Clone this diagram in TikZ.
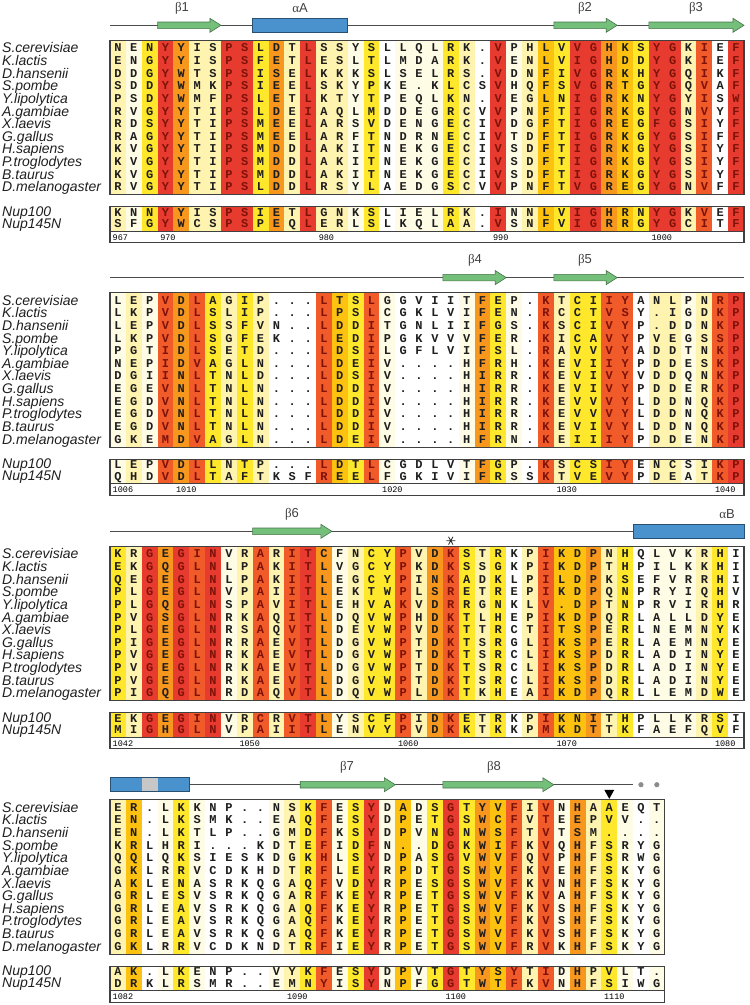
\documentclass[tikz,border=0pt]{standalone}
\usepackage{fontspec}
\usetikzlibrary{calc}
\setmainfont{Liberation Sans}
\newfontfamily\monofont{Liberation Mono}
\newfontfamily\grkfont{Liberation Serif}

\definecolor{lev0}{HTML}{FFFFFF}
\definecolor{lev1}{HTML}{FFFCE6}
\definecolor{lev2}{HTML}{FFF3B0}
\definecolor{lev3}{HTML}{FFE82C}
\definecolor{lev4}{HTML}{FDC20F}
\definecolor{lev5}{HTML}{F7971E}
\definecolor{lev6}{HTML}{F15B2A}
\definecolor{lev7}{HTML}{E63B2E}
\definecolor{txt0}{HTML}{1E1E1E}
\colorlet{txt1}{txt0}\colorlet{txt2}{txt0}\colorlet{txt3}{txt0}
\colorlet{txt4}{txt0}\colorlet{txt5}{txt0}
\definecolor{txt6}{HTML}{7E1209}
\colorlet{txt7}{txt6}
\definecolor{strandgreen}{HTML}{74C07A}
\definecolor{helixblue}{HTML}{4A92CE}

\def\colw{15.85}

\makeatletter
\newcount\rescol
\newcommand\resrow[3]{\rescol=0 \def\res@n{#1}\def\res@y{#2}\res@loop#3\@nil}
\def\res@loop#1{\ifx#1\@nil\else
  \advance\rescol by 1
  \edef\res@lv{\csname lv@\the\rescol\endcsname}%
  \node[res,text=txt\res@lv] (\res@n-\the\rescol) at ({110+(\the\rescol-0.5)*\colw},{\yo+\res@y+3.6}) {#1};%
  \expandafter\res@loop\fi}
\makeatother

\newcommand\drawblock[1]{%
  \foreach \lv [count=\cc] in \levs {
    \expandafter\xdef\csname lv@\cc\endcsname{\lv}
    \fill[lev\lv] ({110+(\cc-1)*\colw},\yo-8) rectangle ++(\colw+0.3,154.6);
    \fill[lev\lv] ({110+(\cc-1)*\colw},\yo+158.5) rectangle ++(\colw+0.3,24.5);
  }
  \fill[white] (110,\yo+183) rectangle ({110+#1*\colw},\yo+194.5);
  \draw[frame] (110,\yo-8) rectangle ({110+#1*\colw},\yo+146.6);
  \draw[frame] (110,\yo+158.5) rectangle ({110+#1*\colw},\yo+194.5);
  \draw[frame] (110,\yo+183) -- ({110+#1*\colw},\yo+183);
}

\newcommand\spclabels{%
  \foreach \sp [count=\r] in {S.cerevisiae,K.lactis,D.hansenii,S.pombe,Y.lipolytica,A.gambiae,X.laevis,G.gallus,H.sapiens,P.troglodytes,B.taurus,D.melanogaster}
    \node[spc] (sp\bk-\r) at (2,{\yo+(\r-1)*12.63+4.6}) {\sp};
  \node[spc] (nupa\bk) at (2,\yo+167.8) {Nup100};
  \node[spc] (nupb\bk) at (2,\yo+180.2) {Nup145N};
}

\newcommand\bstrand[3]{%
  \pgfmathsetmacro\sa{110+(#2-1)*\colw}\pgfmathsetmacro\sb{110+#3*\colw}%
  \filldraw[strandc] (\sa,#1-3.3) -- (\sb-11,#1-3.3) -- (\sb-11,#1-7) -- (\sb,#1)
    -- (\sb-11,#1+7) -- (\sb-11,#1+3.3) -- (\sa,#1+3.3) -- cycle;}
\newcommand\ahelix[3]{%
  \pgfmathsetmacro\sa{110+(#2-1)*\colw}\pgfmathsetmacro\sb{110+#3*\colw}%
  \filldraw[helixc] (\sa,#1-7) rectangle (\sb,#1+7);}

\begin{document}
\begin{tikzpicture}[x=1pt,y=-1pt,
  res/.style={font=\monofont\bfseries\fontsize{12}{12}\selectfont,inner sep=0pt,anchor=base},
  spc/.style={font=\fontsize{14}{14}\selectfont\itshape,text=black!88,inner sep=0pt,anchor=base west},
  numlab/.style={font=\monofont\fontsize{8.5}{8.5}\selectfont,inner sep=0pt,anchor=base west},
  sslab/.style={font=\fontsize{13}{13}\selectfont,text=black!75,inner sep=0pt},
  frame/.style={draw=black!75,line width=1.1pt},
  topo/.style={draw=black!70,line width=1.3pt},
  strandc/.style={fill=strandgreen,draw=strandgreen!60!black,line width=0.6pt},
  helixc/.style={fill=helixblue,draw=helixblue!55!black,line width=0.6pt}]

\useasboundingbox (0,0) rectangle (750,1005);

\def\bk{1}\def\yo{48.3}
\def\levs{2,1,3,7,5,2,2,7,7,3,5,2,7,2,2,1,3,0,1,1,1,3,2,0,7,1,2,4,3,7,7,5,4,3,7,7,2,6,0,7}
\drawblock{40}
\spclabels
\resrow{a1}{0}{NENYYISPSLDTLSSYSLLQLRK.VPHLVVGHKSYGKIEF}
\resrow{a2}{12.63}{ENGYYISPSFETLESLTLMDARK.VENLVIGHDDYGKIEF}
\resrow{a3}{25.26}{DDGYWTSPSISELKKKSLSELRS.VDNFIVGRKHYGQIKF}
\resrow{a4}{37.89}{SDDYWMKPSIEELSKYPKE.KLCSVHQFSVGRTGYGQVAF}
\resrow{a5}{50.52}{PSDYWMFPSLETLKTYTPEQLKN.VEGLNIGRKNYGYISW}
\resrow{a6}{63.15}{RVGYYTIPSLDEIAQLMDDEGRCVVPNFTIGRKGYGNVYF}
\resrow{a7}{75.78}{RDSYYTIPSMEELARSVDENGECIVDGFTIGREGFGSIYF}
\resrow{a8}{88.41}{RAGYYTIPSMEELARFTNDRNECIVTDFTIGRKGYGSIFF}
\resrow{a9}{101.04}{KVGYYTIPSMDDLAKITNEKGECIVSDFTIGRKGYGSIYF}
\resrow{a10}{113.67}{KVGYYTIPSMDDLAKITNEKGECIVSDFTIGRKGYGSIYF}
\resrow{a11}{126.3}{KVGYYTIPSMDDLAKITNEKGECIVSDFTIGRKGYGSIYF}
\resrow{a12}{138.93}{RVGYYTIPSLDDLRSYLAEDGSCVVPNFTVGREGYGNVFF}
\resrow{a13}{164.2}{KNNYYISPSIETLGNKSLIELRK.INNLVIGHRNYGKVEF}
\resrow{a14}{175.8}{SFGYWCSPSPEQLERLSLKQLAA.VSNFVIGRRGYGCITF}
\foreach \c/\n in {1/967,4/970,14/980,25/990,35/1000}
  \node[numlab] (num\n) at ({110+(\c-1)*\colw+2.5},\yo+191.8) {\n};
\draw[topo] (110,\yo-23) -- (744,\yo-23);
\bstrand{\yo-23}{4}{7}
\ahelix{\yo-23}{10}{15}
\bstrand{\yo-23}{29}{32}
\bstrand{\yo-23}{35}{40}
\node[sslab] (b1lab) at (182,\yo-40) {{\grkfont β}1};
\node[sslab] (aAlab) at (300,\yo-40) {{\grkfont α}A};
\node[sslab] (b2lab) at (585,\yo-40) {{\grkfont β}2};
\node[sslab] (b3lab) at (696,\yo-40) {{\grkfont β}3};

\def\bk{2}\def\yo{300.6}
\def\levs{1,2,1,6,5,6,3,2,3,2,0,0,0,6,4,3,6,1,0,0,0,0,1,5,3,1,0,6,2,3,3,6,6,0,2,2,1,2,6,7}
\drawblock{40}
\spclabels
\resrow{b1}{0}{LEPVDLAGIP...LTSLGGVIITFEP.KTCIIYANLPNRP}
\resrow{b2}{12.63}{LKPVDLSLIP...LPSLCGKLVIFEN.RCCTVSY.IGDKP}
\resrow{b3}{25.26}{LEPVDLSSFVN..LDDITGNLIIFGS.KSCIVYP.DDNKP}
\resrow{b4}{37.89}{LKPVDLSGFEK..LEDIPGKVVVFER.KICAVYPVEGSSP}
\resrow{b5}{50.52}{PGTIDLSETD...LDSILGFLVIFSL.RAVVVYADDTNKP}
\resrow{b6}{63.15}{NEPIDVAGLN...LDEIV....HFRH.KEVIIYPDDESKP}
\resrow{b7}{75.78}{DGIINLTNLD...LDSIV....HIRR.KEVIVYVDDQNKP}
\resrow{b8}{88.41}{EGEVNLTNLN...LDDIV....HIRR.KEVIVYPDDERKP}
\resrow{b9}{101.04}{EGDVNLTNLN...LDDIV....HIRR.KEVVVYLDDNQKP}
\resrow{b10}{113.67}{EGDVNLTNLN...LDDIV....HIRR.KEVVVYLDDNQKP}
\resrow{b11}{126.3}{EGDVNLTNLN...LDDIV....HIRR.KEVIVYLDDNQKP}
\resrow{b12}{138.93}{GKEMDVAGLN...LDEIV....HFRN.KEIIIYPDDENKP}
\resrow{b13}{164.2}{LEPVDLLNTP...LDTLCGDLVTFGP.KSCSIYENCSIKP}
\resrow{b14}{175.8}{QHDVDLTAFTKSFREELFGKIVIFRSSKTVEVYPDEATKP}
\foreach \c/\n in {1/1006,5/1010,18/1020,29/1030,39/1040}
  \node[numlab] (num\n) at ({110+(\c-1)*\colw+2.5},\yo+191.8) {\n};
\draw[topo] (110,\yo-23) -- (744,\yo-23);
\bstrand{\yo-23}{22}{25}
\bstrand{\yo-23}{29}{32}
\node[sslab] (b4lab) at (475,\yo-40) {{\grkfont β}4};
\node[sslab] (b5lab) at (585,\yo-40) {{\grkfont β}5};

\def\bk{3}\def\yo{554.3}
\def\levs{3,2,7,5,7,6,7,1,2,6,2,6,7,5,1,2,3,3,6,2,5,6,3,2,3,0,2,6,4,4,5,2,3,0,1,1,1,2,3,0}
\drawblock{40}
\spclabels
\resrow{c1}{0}{KRGEGINVRARITCFNCYPVDKSTRKPIKDPNHQLVKRHI}
\resrow{c2}{12.63}{EKGQGLNLPAKITLVGCYPKDKSSGKPIKDPTHPILKKHI}
\resrow{c3}{25.26}{QEGEGLNLPAKITLEGCYPINKADKLPILDPKSEFVRRHI}
\resrow{c4}{37.89}{PLGEGLNVPAIITLEKTWPLSRETREPIKDPQNPRYIQHV}
\resrow{c5}{50.52}{PLGQGLNSPAVITLEHVAKVDRRGNKLV.DPTNPRVIRHR}
\resrow{c6}{63.15}{PVGSGLNRKAQITLDQVWPHDKTLHEPIKDPQRLALLDYE}
\resrow{c7}{75.78}{PLGEGLNRSAQVTLDEVWPVDKTTRCTITSPERLNEMNYK}
\resrow{c8}{88.41}{PIGEGLNRRAEVTLDGVWPTDKTSRGLIKSPERLAEMNYE}
\resrow{c9}{101.04}{PVGEGLNRKAEVTLDGVWPTDKTSRCLIKSPDRLADINYE}
\resrow{c10}{113.67}{PVGEGLNRKAEVTLDGVWPTDKTSRCLIKSPDRLADINYE}
\resrow{c11}{126.3}{PVGEGLNRKAEVTLDGVWPTDKTSRCLIKSPDRLADINYE}
\resrow{c12}{138.93}{PIGQGLNRDAQVTLDQVWPLDKTKHEAIKDPQRLLEMDWE}
\resrow{c13}{164.2}{EKGEGINVRCRVTLYSCFPIDKETRKPIKNITHPLLKRSI}
\resrow{c14}{175.8}{MIGHGLNVPAIITLENVYPVDKKTKKPMKDTTKFAEFQVF}
\foreach \c/\n in {1/1042,9/1050,19/1060,29/1070,39/1080}
  \node[numlab] (num\n) at ({110+(\c-1)*\colw+2.5},\yo+191.8) {\n};
\draw[topo] (110,\yo-23) -- (633,\yo-23);
\bstrand{\yo-23}{10}{14}
\ahelix{\yo-23}{34}{40}
\node[sslab] (b6lab) at (292,\yo-40) {{\grkfont β}6};
\node[sslab] (aBlab) at (727,\yo-40) {{\grkfont α}B};
\coordinate (ast) at ({110+21.5*\colw},\yo-13.6);
\draw[black!85,line width=0.8pt] ([xshift=-4.5pt]ast) -- ([xshift=4.5pt]ast)
  ($(ast)+(60:4.5)$) -- ($(ast)+(240:4.5)$) ($(ast)+(120:4.5)$) -- ($(ast)+(300:4.5)$);

\def\bk{4}\def\yo{807.7}
\def\levs{2,4,0,1,3,1,0,0,0,0,1,2,3,6,1,3,7,1,4,1,3,7,3,5,4,6,2,6,1,5,2,3,1,0,1}
\drawblock{35}
\spclabels
\resrow{d1}{0}{ER.LKKNP..NSKFESYDADSGTYVFIVNHAAEQT}
\resrow{d2}{12.63}{EN.LKSMK..EAQFESYDPETGSWCFVTEEPVV..}
\resrow{d3}{25.26}{EN.LKTLP..GMDFKSYDPVNGNWSFTVTSM....}
\resrow{d4}{37.89}{KRLHRI...KDTEFIDFN..DGKWIFKVQHFSRYG}
\resrow{d5}{50.52}{QQLQKSIESKDGKHLSYDPASGVWVFQVPHFSRWG}
\resrow{d6}{63.15}{GKLRRVCDKHDTRFLEYRPDTGSWVFKVEHFSKYG}
\resrow{d7}{75.78}{AKLENASRKQGAQFVDYRPESGSWVFKVNHFSKYG}
\resrow{d8}{88.41}{GRLESVSRKQGARFKEYRPETGSWVFKVAHFSKYG}
\resrow{d9}{101.04}{GRLEAVSRKQGAQFKEYRPETGSWVFKVSHFSKYG}
\resrow{d10}{113.67}{GRLEAVSRKQGAQFKEYRPETGSWVFKVSHFSKYG}
\resrow{d11}{126.3}{GRLEAVSRKQGAQFKEYRPETGSWVFKVSHFSKYG}
\resrow{d12}{138.93}{GKLRRVCDKNDTRFIEYRPETGSWVFRVKHFSKYG}
\resrow{d13}{164.2}{AK.LKENP..VYKFESYDPVTGTYSYTIDHPVLT.}
\resrow{d14}{175.8}{DRKLRSMR..EMNYISYNPFGGTWTFKVNHFSIWG}
\foreach \c/\n in {1/1082,12/1090,22/1100,32/1110}
  \node[numlab] (num\n) at ({110+(\c-1)*\colw+2.5},\yo+191.8) {\n};
\draw[topo] (110,\yo-23) -- (633,\yo-23);
\ahelix{\yo-23}{1}{5}
\fill[black!22] ({110+2*\colw},\yo-29.6) rectangle ({110+3*\colw},\yo-16.4);
\bstrand{\yo-23}{13}{18}
\bstrand{\yo-23}{22}{28}
\node[sslab] (b7lab) at (347,\yo-40) {{\grkfont β}7};
\node[sslab] (b8lab) at (494,\yo-40) {{\grkfont β}8};
\coordinate (tri) at ({110+31.5*\colw},\yo-13.4);
\fill[black] ([shift={(-5,-4.5)}]tri) -- ([shift={(5,-4.5)}]tri) -- ([shift={(0,4.5)}]tri) -- cycle;
\fill[black!45] ({110+33.5*\colw},\yo-23) circle (2.6);
\fill[black!45] ({110+34.5*\colw},\yo-23) circle (2.6);

\end{tikzpicture}
\end{document}
